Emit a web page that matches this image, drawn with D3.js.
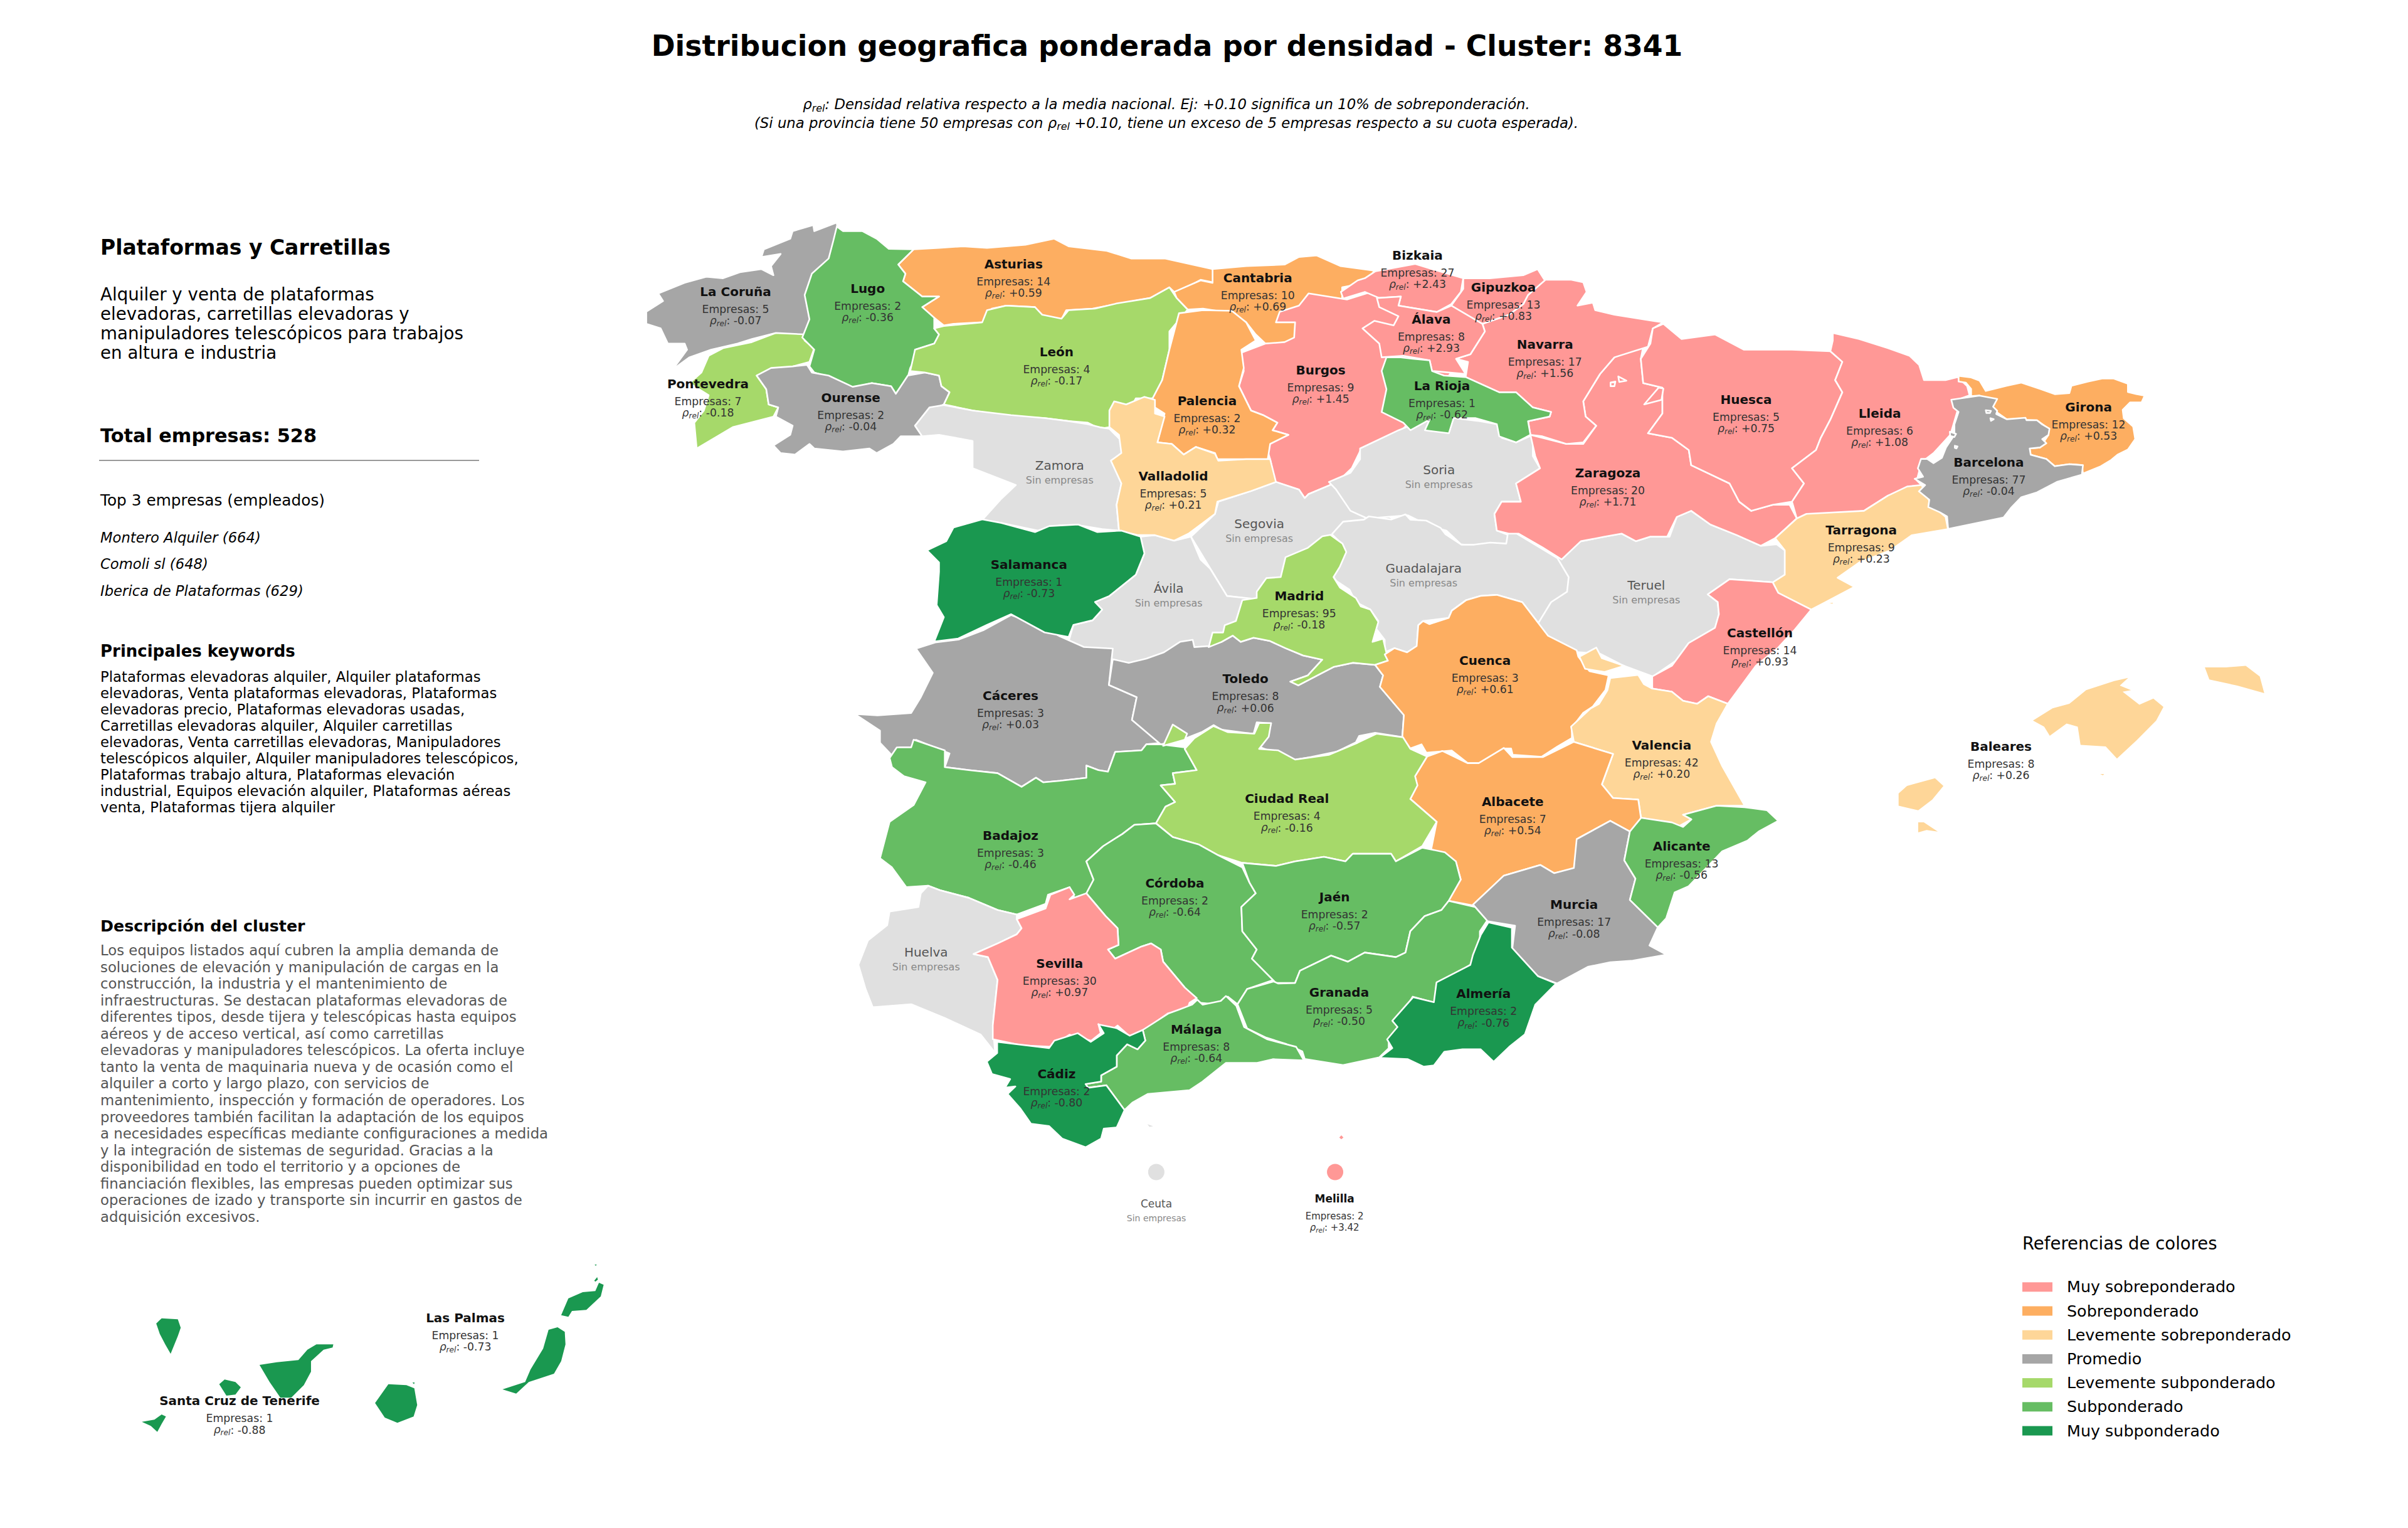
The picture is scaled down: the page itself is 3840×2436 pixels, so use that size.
<!DOCTYPE html>
<html>
  <head>
    <meta charset="utf-8" />
    <script src="https://d3js.org/d3.v7.min.js"></script>
    <style type="text/css">
      body {
        margin: 0;
        background: #fff;
      }
      text {
        font-family: "DejaVu Sans", sans-serif;
      }
    </style>
  </head>

  <body>
    <div id="chart"></div>
  </body>
  <script>
    // values
    const provinces = ["Pontevedra","La Coruña","Asturias","Lugo","Ourense","Cantabria","León","Burgos","Segovia","Ávila","Zamora","Palencia","Valladolid","Cáceres","Salamanca","Toledo","Soria","Teruel","Guadalajara","Madrid","Zaragoza","Navarra","Gipuzkoa","Bizkaia","Álava","La Rioja","Huesca","Lleida","Tarragona","Girona","Barcelona","Cuenca","Castellón","Valencia","Albacete","Murcia","Alicante","Badajoz","Ciudad Real","Córdoba","Jaén","Granada","Almería","Huelva","Sevilla","Málaga","Cádiz","Baleares","Las Palmas","Santa Cruz de Tenerife","Ceuta","Melilla"];
    const empresas = [7,5,14,2,2,10,4,9,null,null,null,2,5,3,1,8,null,null,null,95,20,17,13,27,8,1,5,6,9,12,77,3,14,42,7,17,13,3,4,2,2,5,2,null,30,8,2,8,1,1,null,2];
    const rho = [-0.18,-0.07,0.59,-0.36,-0.04,0.69,-0.17,1.45,null,null,null,0.32,0.21,0.03,-0.73,0.06,null,null,null,-0.18,1.71,1.56,0.83,2.43,2.93,-0.62,0.75,1.08,0.23,0.53,-0.04,0.61,0.93,0.2,0.54,-0.08,-0.56,-0.46,-0.16,-0.64,-0.57,-0.5,-0.76,null,0.97,-0.64,-0.8,0.26,-0.73,-0.88,null,3.42];
    const labelX = [461,479,660,565,554,819,688,860,820,761,690,786,764,658,670,811,937,1072,927,846,1047,1006,979,923,932,939,1137,1224,1212,1360,1295,967,1146,1082,985,1025,1095,658,838,765,869,872,966,603,690,779,688,1303,303,156,753,869];
    const labelY = [250,190,172,188,259,181,229,241,341,383,303,261,310,453,367.5,442,306,381,370,388,308,224,187,166,208,251,260,269,345,265,301,430,412,485,522,589,551,544,520,575,584,646,647,620,627,670,699,486,858,912,783,780];

    const categories = ["Muy sobreponderado","Sobreponderado","Levemente sobreponderado","Promedio","Levemente subponderado","Subponderado","Muy subponderado"];
    const categoryColors = ["#ff9896","#fdae61","#fed698","#a6a6a6","#a6d96a","#66bd63","#1a9850"];
    const rhoBreaks = [-0.7,-0.3,-0.1,0.1,0.3,0.7];

    const clusterTitle = "Distribucion geografica ponderada por densidad - Cluster: 8341";
    const panelTitle = "Plataformas y Carretillas";
    const panelIntro = ["Alquiler y venta de plataformas","elevadoras, carretillas elevadoras y","manipuladores telescópicos para trabajos","en altura e industria"];
    const totalEmpresas = 528;
    const topEmpresas = ["Montero Alquiler (664)","Comoli sl (648)","Iberica de Plataformas (629)"];
    const keywordLines = ["Plataformas elevadoras alquiler, Alquiler plataformas","elevadoras, Venta plataformas elevadoras, Plataformas","elevadoras precio, Plataformas elevadoras usadas,","Carretillas elevadoras alquiler, Alquiler carretillas","elevadoras, Venta carretillas elevadoras, Manipuladores","telescópicos alquiler, Alquiler manipuladores telescópicos,","Plataformas trabajo altura, Plataformas elevación","industrial, Equipos elevación alquiler, Plataformas aéreas","venta, Plataformas tijera alquiler"];
    const descriptionLines = ["Los equipos listados aquí cubren la amplia demanda de","soluciones de elevación y manipulación de cargas en la","construcción, la industria y el mantenimiento de","infraestructuras. Se destacan plataformas elevadoras de","diferentes tipos, desde tijera y telescópicas hasta equipos","aéreos y de acceso vertical, así como carretillas","elevadoras y manipuladores telescópicos. La oferta incluye","tanto la venta de maquinaria nueva y de ocasión como el","alquiler a corto y largo plazo, con servicios de","mantenimiento, inspección y formación de operadores. Los","proveedores también facilitan la adaptación de los equipos","a necesidades específicas mediante configuraciones a medida","y la integración de sistemas de seguridad. Gracias a la","disponibilidad en todo el territorio y a opciones de","financiación flexibles, las empresas pueden optimizar sus","operaciones de izado y transporte sin incurrir en gastos de","adquisición excesivos."];

    const sheetNames = ["A","B","C","D","E","F","G","H"];
    const sheetGridW = [1568,1568,1568,1568,1568,1568,1500,1568];
    const sheetGridH = [1568,1568,1568,1568,1568,1200,960,1500];
    const sheetX0 = [1000,2100,1300,2300,1300,120,3000,1800];
    const sheetX1 = [2200,3300,2500,3700,2600,1020,3500,2600];
    const sheetY0 = [320,320,1000,950,1400,1980,560,800];
    const sheetY1 = [1080,1080,1760,1710,2020,2380,880,1300];

    const outlines = {
      "Pontevedra": [["A",[[155,565],[170,510],[200,485],[260,465],[310,435],[365,430],[370,460],[390,485],[380,530],[345,545],[270,575],[290,620],[295,670],[315,680],[305,710],[220,745],[145,815],[140,730],[160,690],[170,640],[130,600]]]],
      "La Coruña": [["A",[[437,72],[390,100],[388,80],[345,100],[340,125],[285,160],[280,185],[320,175],[300,215],[305,245],[280,225],[235,235],[200,255],[165,250],[120,270],[65,305],[75,330],[40,365],[40,405],[70,420],[85,470],[120,470],[125,490],[95,555],[130,515],[175,490],[230,470],[260,455],[310,435],[375,440],[400,300],[440,120]]]],
      "Asturias": [["A",[[597,160],[650,155],[700,150],[750,155],[830,145],[890,125],[920,150],[1000,165],[1050,190],[1120,190],[1220,225],[1225,270],[1195,260],[1150,300],[1140,300],[1130,285],[1090,320],[1020,340],[970,355],[915,360],[905,390],[860,375],[850,350],[790,345],[760,355],[740,400],[680,405],[660,410],[640,385],[615,350],[650,315],[615,315],[575,265],[580,240],[565,210]]]],
      "Lugo": [["A",[[437,85],[450,100],[490,100],[520,125],[545,158],[597,160],[565,210],[580,240],[575,265],[615,315],[650,315],[615,350],[640,385],[640,420],[650,440],[640,470],[600,490],[600,520],[590,550],[585,580],[560,635],[550,610],[510,600],[470,615],[420,580],[390,565],[380,545],[390,490],[365,450],[380,390],[370,310],[385,240],[420,190],[430,130]]]],
      "Ourense": [["A",[[270,575],[300,550],[345,545],[375,540],[385,565],[420,575],[470,612],[510,600],[550,610],[560,635],[585,575],[620,565],[650,575],[655,610],[672,630],[660,670],[630,690],[600,740],[615,775],[570,775],[555,800],[520,830],[505,815],[450,825],[390,815],[380,800],[350,835],[320,830],[305,805],[340,770],[345,740],[310,710],[315,680],[295,670],[290,620]]]],
      "Cantabria": [["A",[[1220,225],[1290,215],[1370,210],[1400,185],[1437,180],[1487,215],[1557,230],[1540,270],[1490,285],[1490,330],[1420,400],[1400,470],[1330,470],[1310,440],[1290,400],[1260,370],[1200,355],[1168,358],[1145,320],[1140,300],[1195,262],[1220,270]]]],
      "León": [["A",[[660,412],[740,400],[750,360],[790,345],[850,350],[865,375],[905,388],[920,360],[975,355],[1020,338],[1090,320],[1130,285],[1145,320],[1168,358],[1130,430],[1130,490],[1115,590],[1100,650],[1060,650],[1050,680],[1010,685],[1005,745],[985,750],[960,730],[920,725],[870,715],[800,710],[720,690],[660,670],[672,630],[655,610],[650,575],[620,565],[590,560],[600,490],[640,470],[650,440],[640,420]]]],
      "Burgos": [["A",[[1280,500],[1330,470],[1370,465],[1390,450],[1392,400],[1352,400],[1360,365],[1400,345],[1420,305],[1500,325],[1550,300],[1700,330],[1720,560],[1650,700],[1610,760],[1530,815],[1510,880],[1480,925],[1420,965],[1412,978],[1400,950],[1350,925],[1340,850],[1330,800],[1378,770],[1345,755],[1355,730],[1325,705],[1300,690],[1275,610],[1285,560]]]],
      "Segovia": [["A",[[1175,1105],[1225,1030],[1232,990],[1300,955],[1352,925],[1400,950],[1412,978],[1420,965],[1480,925],[1500,960],[1600,1050],[1480,1150],[1350,1320],[1250,1300]]]],
      "Ávila": [["A",[[930,1395],[970,1380],[990,1345],[975,1320],[1005,1300],[1060,1230],[1078,1160],[1068,1105],[1100,1100],[1140,1118],[1175,1105],[1195,1180],[1215,1210],[1250,1300],[1310,1310],[1300,1400],[1250,1480],[1210,1520],[1000,1520],[920,1450]]]],
      "Zamora": [["A",[[600,740],[630,680],[660,672],[720,690],[800,705],[870,715],[920,725],[960,735],[985,745],[1005,750],[1030,790],[1030,830],[1010,855],[1030,930],[1020,1000],[1025,1085],[990,1080],[950,1070],[900,1068],[855,1085],[780,1060],[740,1050],[780,980],[810,935],[720,880],[720,790],[650,770],[615,775]]]],
      "Palencia": [["A",[[1140,430],[1150,370],[1200,360],[1260,362],[1290,400],[1310,460],[1280,490],[1285,550],[1275,610],[1300,690],[1325,705],[1355,730],[1345,755],[1378,770],[1340,800],[1335,850],[1290,850],[1230,850],[1225,830],[1185,810],[1160,835],[1135,800],[1105,795],[1120,700],[1100,680],[1095,650],[1115,590],[1130,490]]]],
      "Valladolid": [["A",[[1005,690],[1015,660],[1040,670],[1078,645],[1100,655],[1100,700],[1120,710],[1105,795],[1135,800],[1160,835],[1185,810],[1225,832],[1232,855],[1290,850],[1340,850],[1352,925],[1300,955],[1230,990],[1225,1030],[1170,1095],[1140,1118],[1100,1100],[1065,1100],[1025,1085],[1020,1000],[1030,930],[1008,855],[1030,830],[1025,770],[1005,745]]]],
      "Cáceres": [["C",[[82,285],[130,290],[200,282],[220,230],[245,150],[210,70],[250,50],[300,40],[350,10],[408,-40],[470,-5],[510,30],[560,65],[620,70],[612,190],[670,230],[660,305],[720,380],[690,385],[680,405],[625,410],[610,475],[590,470],[565,455],[565,495],[510,505],[475,510],[460,495],[430,525],[380,480],[320,470],[270,460],[280,415],[210,370],[200,395],[175,395],[165,430],[135,380],[135,340]]]],
      "Salamanca": [["A",[[625,1150],[665,1120],[680,1075],[740,1048],[780,1060],[850,1090],[880,1070],[940,1065],[980,1090],[1030,1085],[1070,1105],[1078,1160],[1060,1230],[1005,1300],[975,1320],[990,1345],[970,1380],[930,1395],[920,1435],[870,1420],[800,1360],[750,1395],[690,1440],[640,1450],[660,1370],[645,1330],[650,1220],[650,1190]]]],
      "Toledo": [["H",[[0,770],[55,750],[110,720],[160,670],[200,660],[205,695],[250,690],[290,670],[325,640],[350,670],[390,650],[440,665],[490,700],[545,735],[605,755],[560,830],[505,860],[530,878],[590,830],[640,790],[700,770],[770,780],[795,830],[785,885],[860,1020],[855,1125],[770,1105],[720,1120],[710,1150],[650,1195],[570,1220],[515,1235],[470,1210],[405,1170],[435,1110],[445,1060],[400,1055],[390,1110],[290,1090],[265,1068],[230,1100],[180,1130],[100,1160],[10,1043],[25,934],[-62,876],[-50,753]]]],
      "Soria": [["B",[[90,815],[170,755],[225,720],[270,760],[285,715],[340,725],[375,735],[385,780],[415,795],[450,770],[450,840],[465,880],[415,930],[425,990],[385,990],[370,1030],[375,1085],[400,1100],[395,1130],[330,1135],[300,1130],[270,1085],[235,1070],[190,1035],[105,1045],[70,1020],[40,950],[25,925],[70,895],[90,850]]]],
      "Teruel": [["B",[[490,1180],[550,1120],[600,1105],[635,1095],[665,1120],[695,1105],[735,1105],[750,1040],[780,1020],[820,1065],[875,1100],[925,1135],[958,1130],[975,1150],[975,1235],[950,1255],[860,1245],[835,1290],[815,1295],[835,1320],[838,1360],[830,1405],[760,1500],[700,1565],[640,1530],[590,1490],[500,1480],[430,1390],[440,1320],[470,1250]]]],
      "Guadalajara": [["H",[[635,155],[670,95],[735,85],[750,70],[820,85],[865,60],[880,85],[930,90],[975,125],[990,155],[1040,205],[1080,205],[1130,195],[1180,200],[1185,150],[1210,150],[1340,270],[1375,360],[1370,430],[1320,480],[1280,580],[1230,480],[1150,445],[1100,450],[1055,470],[1010,520],[1000,555],[920,570],[905,590],[900,690],[870,720],[830,700],[800,720],[800,660],[770,600],[780,570],[755,515],[710,480],[690,420],[650,380],[640,360],[670,240],[665,200]]]],
      "Madrid": [["H",[[630,158],[668,200],[680,240],[660,310],[640,360],[660,410],[710,460],[725,500],[755,515],[780,575],[762,670],[795,655],[805,720],[810,760],[770,780],[700,770],[640,790],[590,830],[530,878],[505,860],[560,830],[605,755],[545,735],[490,700],[440,665],[390,650],[350,670],[325,640],[290,670],[250,695],[262,625],[295,625],[300,590],[335,570],[355,470],[400,460],[400,430],[430,365],[475,360],[490,265],[560,220],[605,165]]]],
      "Zaragoza": [["B",[[680,480],[620,515],[590,570],[555,660],[560,710],[582,740],[555,800],[520,800],[445,770],[455,840],[465,880],[415,930],[425,990],[385,990],[370,1030],[375,1085],[400,1095],[420,1095],[470,1140],[510,1180],[550,1120],[600,1105],[635,1095],[665,1120],[695,1105],[730,1105],[750,1040],[780,1020],[820,1065],[875,1100],[925,1135],[955,1110],[1000,1045],[985,1000],[950,1000],[905,1020],[880,990],[860,930],[780,870],[775,820],[740,780],[690,765],[720,700],[720,615],[680,600],[675,520]]]],
      "Navarra": [["B",[[345,405],[400,375],[430,340],[440,310],[475,260],[530,260],[555,268],[562,300],[543,345],[575,335],[580,360],[620,375],[700,395],[722,400],[700,420],[690,480],[620,515],[590,570],[555,660],[560,710],[582,740],[555,795],[520,800],[470,775],[445,770],[440,725],[485,710],[488,695],[450,680],[415,630],[380,630],[310,580],[315,530],[290,520],[320,505],[350,430]],[[628,578],[645,592],[630,596]],[[612,598],[622,595],[620,610],[612,610]]]],
      "Gipuzkoa": [["B",[[305,255],[360,255],[430,245],[460,225],[475,262],[440,310],[430,340],[400,375],[345,405],[320,390],[280,345],[305,290]]]],
      "Bizkaia": [["B",[[122,232],[205,208],[240,225],[305,255],[300,300],[280,340],[250,366],[170,345],[175,315],[130,320],[100,300],[55,322],[50,300],[85,262],[100,255]]]],
      "Álava": [["B",[[170,345],[250,366],[280,345],[345,405],[350,430],[320,505],[290,520],[310,570],[240,560],[235,525],[180,510],[135,515],[130,470],[95,420],[120,395],[160,410],[170,380],[130,350],[125,320],[175,315]]]],
      "La Rioja": [["B",[[145,515],[175,515],[200,520],[235,525],[240,560],[265,575],[310,580],[380,630],[415,630],[450,680],[488,695],[485,710],[440,725],[445,770],[415,795],[380,775],[375,735],[330,715],[285,715],[275,765],[225,755],[235,720],[195,755],[180,730],[135,695],[145,620],[135,560]]]],
      "Huesca": [["B",[[722,405],[760,455],[830,440],[890,490],[935,490],[990,490],[1070,495],[1095,530],[1080,590],[1095,630],[1070,720],[1050,780],[1040,820],[990,880],[1015,930],[990,990],[950,1000],[905,1020],[880,990],[860,930],[780,870],[775,820],[740,780],[690,765],[720,700],[720,615],[680,600],[675,520],[695,470],[700,420]],[[712,615],[722,618],[718,655],[682,670]]]],
      "Lleida": [["B",[[1075,435],[1130,455],[1190,485],[1235,510],[1255,540],[1265,590],[1310,590],[1335,580],[1355,610],[1360,640],[1325,660],[1335,690],[1320,770],[1285,830],[1260,860],[1250,920],[1260,935],[1190,970],[1140,1020],[1020,1045],[1000,1045],[990,990],[1015,930],[990,880],[1040,820],[1050,780],[1070,720],[1095,630],[1080,590],[1095,530],[1070,495],[1075,460]]]],
      "Tarragona": [["B",[[1000,1045],[1020,1030],[1140,1020],[1190,970],[1230,940],[1260,935],[1280,1000],[1310,1040],[1315,1080],[1240,1100],[1195,1150],[1130,1190],[1085,1240],[1120,1270],[1060,1320],[1030,1345],[960,1290],[950,1255],[975,1230],[975,1150],[955,1110]],[[1058,1325],[1080,1318],[1075,1328]]]],
      "Girona": [["G",[[370,118],[430,125],[470,140],[500,190],[600,165],[670,150],[760,180],[830,205],[900,200],[910,165],[990,145],[1060,130],[1110,130],[1180,155],[1180,195],[1220,205],[1260,212],[1245,245],[1190,245],[1155,280],[1160,320],[1205,360],[1215,420],[1180,470],[1130,495],[1100,520],[1050,550],[965,585],[960,545],[900,540],[830,550],[790,515],[715,495],[710,465],[760,460],[800,400],[800,370],[745,330],[600,325],[550,290],[470,212],[430,215],[430,180],[405,150],[370,145]],[[505,125],[515,118],[515,133]]]],
      "Barcelona": [["G",[[335,232],[470,212],[555,228],[535,265],[555,285],[550,300],[600,325],[690,318],[695,330],[745,330],[770,350],[805,370],[800,400],[770,420],[790,440],[760,460],[710,465],[715,495],[790,515],[830,550],[900,540],[965,545],[960,590],[840,625],[745,675],[670,698],[620,750],[585,795],[320,850],[315,790],[280,770],[225,745],[230,710],[180,670],[210,640],[160,610],[200,600],[175,560],[190,515],[220,515],[250,535],[290,510],[310,460],[350,400],[350,350],[370,290],[345,270]],[[500,282],[525,285],[520,295],[503,295]],[[522,320],[538,325],[525,333]],[[328,385],[358,395],[350,410],[330,405]],[[352,452],[365,455],[360,465],[352,462]]]],
      "Cuenca": [["H",[[800,730],[830,700],[870,720],[900,690],[905,590],[920,570],[940,585],[1000,555],[1010,520],[1055,470],[1100,450],[1150,445],[1230,480],[1280,580],[1310,640],[1400,710],[1405,740],[1440,810],[1500,830],[1490,900],[1450,980],[1420,1010],[1385,1080],[1385,1130],[1340,1170],[1290,1220],[1200,1210],[1195,1180],[1170,1180],[1180,1225],[1100,1250],[1060,1250],[1010,1190],[930,1200],[915,1160],[880,1180],[855,1125],[860,1020],[785,885],[795,830],[770,780],[810,760]]]],
      "Castellón": [["D",[[513,-55],[590,-45],[600,-10],[659,45],[630,110],[600,170],[560,230],[520,330],[510,355],[475,330],[455,355],[430,345],[410,315],[375,305],[375,265],[410,230],[440,155],[487,105],[494,60],[492,20],[474,-5]]]],
      "Valencia": [["D",[[300,270],[350,260],[360,290],[375,305],[410,315],[430,345],[455,355],[475,330],[510,355],[490,420],[480,480],[500,560],[540,690],[490,690],[430,720],[445,735],[420,760],[400,745],[355,730],[350,670],[305,665],[285,620],[305,520],[235,480],[230,430],[265,370],[280,355],[295,310]],[[245,200],[275,170],[285,205],[325,230],[290,250],[255,240]]]],
      "Albacete": [["D",[[-27,528],[0,510],[45,550],[65,550],[110,500],[125,530],[180,530],[235,480],[305,520],[285,620],[305,665],[350,670],[358,770],[335,775],[300,740],[245,795],[240,895],[200,912],[175,885],[110,920],[55,1018],[11,1003],[33,933],[24,873],[-20,835],[-10,743],[-57,668],[-45,623],[-49,593]]]],
      "Murcia": [["D",[[55,1015],[110,920],[175,885],[200,912],[235,895],[240,800],[300,740],[335,775],[325,870],[345,930],[335,1000],[385,1090],[370,1150],[400,1180],[340,1200],[300,1205],[260,1220],[205,1275],[170,1250],[125,1160],[130,1085],[80,1070]]]],
      "Alicante": [["D",[[355,730],[410,745],[430,760],[445,735],[430,720],[490,690],[540,695],[580,705],[600,740],[565,775],[545,805],[500,840],[440,955],[415,975],[400,1060],[385,1090],[335,1000],[345,930],[325,870],[335,775]]]],
      "Badajoz": [["C",[[155,430],[170,395],[200,395],[205,370],[270,405],[270,460],[320,470],[380,480],[430,525],[460,495],[475,510],[510,505],[565,495],[565,455],[590,470],[610,475],[625,410],[680,405],[690,385],[720,385],[770,395],[790,365],[770,400],[795,470],[745,480],[750,515],[720,520],[750,575],[730,590],[710,645],[665,650],[640,680],[600,720],[565,770],[580,830],[575,870],[540,890],[530,855],[485,880],[480,910],[420,945],[380,930],[320,890],[260,865],[235,850],[190,855],[160,790],[135,760],[145,700],[155,640],[205,585],[230,510],[185,490],[160,460]]]],
      "Ciudad Real": [["C",[[790,365],[830,325],[860,345],[915,350],[925,315],[950,315],[945,360],[925,400],[965,405],[1000,435],[1070,420],[1130,380],[1170,350],[1225,362],[1240,400],[1275,425],[1250,490],[1255,520],[1240,565],[1295,640],[1265,720],[1210,770],[1200,745],[1120,745],[1105,770],[1060,755],[1000,770],[960,785],[890,775],[840,750],[800,715],[745,690],[710,645],[730,590],[750,575],[720,520],[750,515],[745,480],[795,470],[770,400]],[[725,390],[745,320],[775,350],[770,370]]]],
      "Córdoba": [["C",[[710,645],[745,690],[800,715],[840,750],[890,790],[905,840],[918,875],[888,920],[890,1000],[920,1060],[910,1090],[955,1160],[900,1190],[880,1240],[860,1215],[835,1240],[800,1235],[770,1185],[725,1100],[720,1060],[700,1040],[680,1050],[625,1090],[610,1060],[632,1045],[630,990],[605,950],[565,875],[580,830],[565,770],[600,720],[640,680],[665,650]]]],
      "Jaén": [["C",[[890,775],[960,785],[1000,770],[1060,755],[1105,770],[1120,745],[1200,745],[1210,770],[1265,725],[1312,740],[1335,770],[1345,830],[1320,900],[1305,930],[1270,950],[1240,1000],[1230,1070],[1210,1085],[1145,1070],[1110,1100],[1075,1080],[1010,1130],[1000,1170],[960,1170],[910,1090],[920,1060],[890,1000],[888,920],[918,875],[905,840]]]],
      "Granada": [["C",[[880,1240],[900,1190],[955,1165],[965,1172],[1000,1170],[1010,1130],[1075,1080],[1110,1100],[1145,1070],[1210,1085],[1230,1070],[1240,1000],[1270,950],[1305,930],[1320,900],[1375,920],[1400,965],[1385,1000],[1385,1060],[1365,1110],[1355,1120],[1295,1175],[1290,1235],[1245,1215],[1220,1280],[1210,1340],[1195,1360],[1195,1385],[1175,1415],[1100,1440],[1020,1420],[1015,1395],[980,1370],[940,1350],[900,1320]]]],
      "Almería": [["E",[[1295,178],[1340,200],[1340,280],[1390,395],[1425,425],[1385,510],[1365,630],[1335,680],[1305,740],[1280,690],[1245,690],[1210,700],[1190,755],[1170,760],[1140,730],[1085,725],[1110,685],[1100,650],[1120,600],[1110,575],[1150,480],[1190,500],[1195,420],[1260,350],[1265,310],[1280,230]]]],
      "Huelva": [["C",[[235,850],[260,865],[320,890],[380,930],[420,945],[420,960],[430,990],[420,1010],[380,1040],[330,1075],[360,1085],[380,1160],[370,1310],[375,1400],[345,1340],[270,1285],[200,1240],[120,1250],[105,1190],[90,1110],[110,1030],[150,980],[155,935],[215,920],[220,875]]]],
      "Sevilla": [["C",[[330,1075],[380,1040],[420,1010],[430,990],[420,960],[480,925],[490,880],[530,855],[540,880],[530,895],[565,875],[605,950],[630,990],[632,1045],[610,1060],[625,1090],[680,1050],[700,1040],[720,1060],[725,1100],[770,1185],[795,1220],[780,1235],[775,1260],[735,1270],[690,1320],[655,1345],[630,1310],[605,1340],[590,1305],[595,1335],[575,1360],[530,1340],[490,1380],[430,1375],[370,1355],[370,1310],[380,1160],[360,1085]]]],
      "Málaga": [["E",[[735,490],[745,510],[780,495],[790,475],[810,515],[825,600],[870,650],[925,680],[940,735],[880,730],[850,745],[790,745],[745,820],[720,855],[640,870],[610,905],[595,935],[560,835],[525,845],[520,830],[550,820],[550,795],[580,760],[580,715],[600,670],[620,690],[635,655],[630,612],[680,545],[700,530],[725,510]]]],
      "Cádiz": [["E",[[350,660],[450,685],[460,655],[505,625],[530,660],[555,625],[545,590],[580,605],[605,635],[630,612],[635,655],[620,690],[600,670],[580,715],[580,760],[550,795],[550,820],[520,830],[525,845],[560,835],[595,935],[580,1005],[555,1010],[550,1050],[520,1085],[475,1050],[450,1000],[415,990],[395,930],[370,870],[385,840],[365,845],[375,810],[340,790],[330,740],[350,705]]]],
      "Baleares": [["D",[[1055,410],[1090,370],[1120,355],[1150,310],[1200,280],[1225,270],[1210,295],[1230,310],[1215,315],[1245,358],[1270,338],[1288,365],[1275,410],[1240,475],[1205,535],[1185,495],[1140,490],[1135,430],[1115,420],[1085,460],[1075,430]],[[1362,235],[1400,235],[1435,230],[1460,265],[1468,320],[1420,295],[1370,275]],[[830,625],[880,600],[895,625],[875,670],[850,705],[815,690],[815,650]],[[850,745],[860,745],[885,775],[865,770],[850,778]],[[1175,586],[1182,586],[1180,590]]]],
      "Las Palmas": [["F",[[1350,350],[1370,270],[1410,240],[1445,235],[1455,195],[1468,205],[1460,260],[1420,325],[1380,330],[1370,358]],[[1187,705],[1250,670],[1265,610],[1300,510],[1315,420],[1340,408],[1360,430],[1362,490],[1350,570],[1330,630],[1260,670],[1225,725]],[[833,770],[870,680],[920,685],[942,700],[950,780],[940,835],[895,865],[860,840]],[[1442,185],[1450,168],[1452,180],[1445,190]],[[1443,108],[1449,108],[1446,114]],[[937,672],[943,672],[941,680]]]],
      "Santa Cruz de Tenerife": [["F",[[225,390],[240,365],[285,370],[293,410],[285,450],[265,535],[250,490],[235,440]],[[512,588],[560,575],[620,565],[645,515],[670,490],[717,490],[715,505],[690,515],[655,570],[655,620],[635,685],[600,745],[570,745],[540,670]],[[400,680],[415,658],[445,670],[460,695],[445,730],[420,735]],[[185,860],[220,850],[240,825],[252,835],[240,870],[228,908],[210,880]]]],
      "Ceuta": [["E",[[639,992],[650,1000],[643,1003]]]],
      "Melilla": [["E",[[1012,1037],[1016,1046],[1012,1053],[1008,1046]]]]
    };

    // dots for the two cities, same grid as sheet E
    const cityNames = ["Ceuta","Melilla"];
    const cityGridX = [656,1000];
    const cityGridY = [1185,1185];
    // islands get no white edge, it would eat the small ones
    const noEdge = ["Baleares","Las Palmas","Santa Cruz de Tenerife","Ceuta","Melilla"];

    const W = 3840;
    const H = 2436;
    const svg = d3.select("#chart").append("svg").attr("width", W).attr("height", H);

    // low rho is green, high rho is red, the legend lists them the other way round
    const fillScale = d3.scaleThreshold().domain(rhoBreaks).range(categoryColors.slice().reverse());
    const noData = "#e0e0e0";
    const signed = d3.formatLocale({ decimal: ".", thousands: ",", grouping: [3], currency: ["", ""], minus: "-" }).format("+.2f");

    const sheets = {};
    sheetNames.forEach((s, i) => {
      sheets[s] = {
        x: d3.scaleLinear().domain([0, sheetGridW[i]]).range([sheetX0[i], sheetX1[i]]),
        y: d3.scaleLinear().domain([0, sheetGridH[i]]).range([sheetY0[i], sheetY1[i]]),
      };
    });
    // label positions were read on a 1568 wide view of the picture
    const viewX = d3.scaleLinear().domain([0, 1568]).range([0, W]);
    const viewY = d3.scaleLinear().domain([0, 994.7]).range([0, H]);

    const map = svg.append("g");
    provinces.forEach((name, i) => {
      const color = rho[i] === null ? noData : fillScale(rho[i]);
      outlines[name].forEach(([s, ...rings]) => {
        const line = d3.line().x((d) => sheets[s].x(d[0])).y((d) => sheets[s].y(d[1]));
        map.selectAll(null)
          .data(rings)
          .enter()
          .append("path")
          .attr("d", (r) => line(r) + "Z")
          .attr("fill", color)
          .attr("stroke", noEdge.includes(name) ? "none" : "#fff")
          .attr("stroke-width", 2.6)
          .attr("stroke-linejoin", "round");
      });
    });

    map.selectAll("circle")
      .data(cityNames)
      .enter()
      .append("circle")
      .attr("cx", (d, i) => sheets.E.x(cityGridX[i]))
      .attr("cy", (d, i) => sheets.E.y(cityGridY[i]))
      .attr("r", 13)
      .attr("fill", (d) => {
        const v = rho[provinces.indexOf(d)];
        return v === null ? noData : fillScale(v);
      });

    // text with a subscript rho, used by the labels and the note
    function rhoText(sel, rest) {
      sel.append("tspan").attr("font-style", "italic").text("ρ");
      sel.append("tspan").attr("font-style", "italic").attr("font-size", "70%").attr("dy", "0.25em").text("rel");
      sel.append("tspan").attr("dy", "-0.17em").text(rest);
    }

    const labels = svg.append("g").attr("text-anchor", "middle");
    provinces.forEach((name, i) => {
      const x = viewX(labelX[i]);
      const y = viewY(labelY[i]);
      const small = cityNames.includes(name);
      const has = empresas[i] !== null;
      labels.append("text")
        .attr("x", x)
        .attr("y", y + 7)
        .attr("font-size", small ? 17 : 20)
        .attr("font-weight", has ? "bold" : "normal")
        .attr("fill", has ? "#111" : "#555")
        .text(name);
      if (has) {
        labels.append("text")
          .attr("x", x)
          .attr("y", y + 34)
          .attr("font-size", small ? 15 : 17.3)
          .attr("fill", "#333")
          .text("Empresas: " + empresas[i]);
        labels.append("text")
          .attr("x", x)
          .attr("y", y + 52)
          .attr("font-size", small ? 15 : 17.3)
          .attr("fill", "#333")
          .call(rhoText, ": " + signed(rho[i]));
      } else {
        labels.append("text")
          .attr("x", x)
          .attr("y", y + 29)
          .attr("font-size", small ? 14 : 16)
          .attr("fill", "#888")
          .text("Sin empresas");
      }
    });

    // title and note
    svg.append("text").attr("x", 1861).attr("y", 89).attr("text-anchor", "middle")
      .attr("font-size", 45.7).attr("font-weight", "bold").text(clusterTitle);
    const note1 = svg.append("text").attr("x", 1860).attr("y", 174).attr("text-anchor", "middle")
      .attr("font-size", 22.8).attr("font-style", "italic");
    rhoText(note1, ": Densidad relativa respecto a la media nacional. Ej: +0.10 significa un 10% de sobreponderación.");
    const note2 = svg.append("text").attr("x", 1860).attr("y", 203.5).attr("text-anchor", "middle")
      .attr("font-size", 22.8).attr("font-style", "italic");
    note2.append("tspan").text("(Si una provincia tiene 50 empresas con ");
    rhoText(note2, " +0.10, tiene un exceso de 5 empresas respecto a su cuota esperada).");

    // left panel
    const panel = svg.append("g").attr("transform", "translate(160,0)");
    const addLines = (lines, y0, step, size, fill, style) =>
      panel.append("g")
        .selectAll("text")
        .data(lines)
        .enter()
        .append("text")
        .attr("y", (d, i) => y0 + i * step)
        .attr("font-size", size)
        .attr("fill", fill)
        .attr("font-style", style || "normal")
        .text((d) => d);

    panel.append("text").attr("y", 406).attr("font-size", 33).attr("font-weight", "bold").text(panelTitle);
    addLines(panelIntro, 478.6, 31.1, 27.7, "#000");
    panel.append("text").attr("y", 705).attr("font-size", 30.3).attr("font-weight", "bold").text("Total empresas: " + totalEmpresas);
    panel.append("line").attr("x1", -2).attr("x2", 604).attr("y1", 734).attr("y2", 734).attr("stroke", "#999").attr("stroke-width", 2);
    panel.append("text").attr("y", 806.4).attr("font-size", 24.8).text("Top 3 empresas (empleados)");
    addLines(topEmpresas, 864.5, 42.5, 22.7, "#000", "italic");
    panel.append("text").attr("y", 1046.6).attr("font-size", 26).attr("font-weight", "bold").text("Principales keywords");
    addLines(keywordLines, 1087.4, 26, 22.8, "#000");
    panel.append("text").attr("y", 1484.7).attr("font-size", 25.3).attr("font-weight", "bold").text("Descripción del cluster");
    addLines(descriptionLines, 1523, 26.56, 22.8, "#555");

    // colour legend
    const legendY = d3.scalePoint().domain(categories).range([2044.3, 2273.5]);
    svg.append("text").attr("x", 3225).attr("y", 1991.7).attr("font-size", 27.5).text("Referencias de colores");
    const legend = svg.append("g")
      .selectAll("g")
      .data(categories)
      .enter()
      .append("g")
      .attr("transform", (d) => `translate(3225,${legendY(d)})`);
    legend.append("rect").attr("width", 48).attr("height", 15).attr("fill", (d, i) => categoryColors[i]);
    legend.append("text").attr("x", 71).attr("y", 16).attr("font-size", 25.4).text((d) => d);
  </script>
</html>
